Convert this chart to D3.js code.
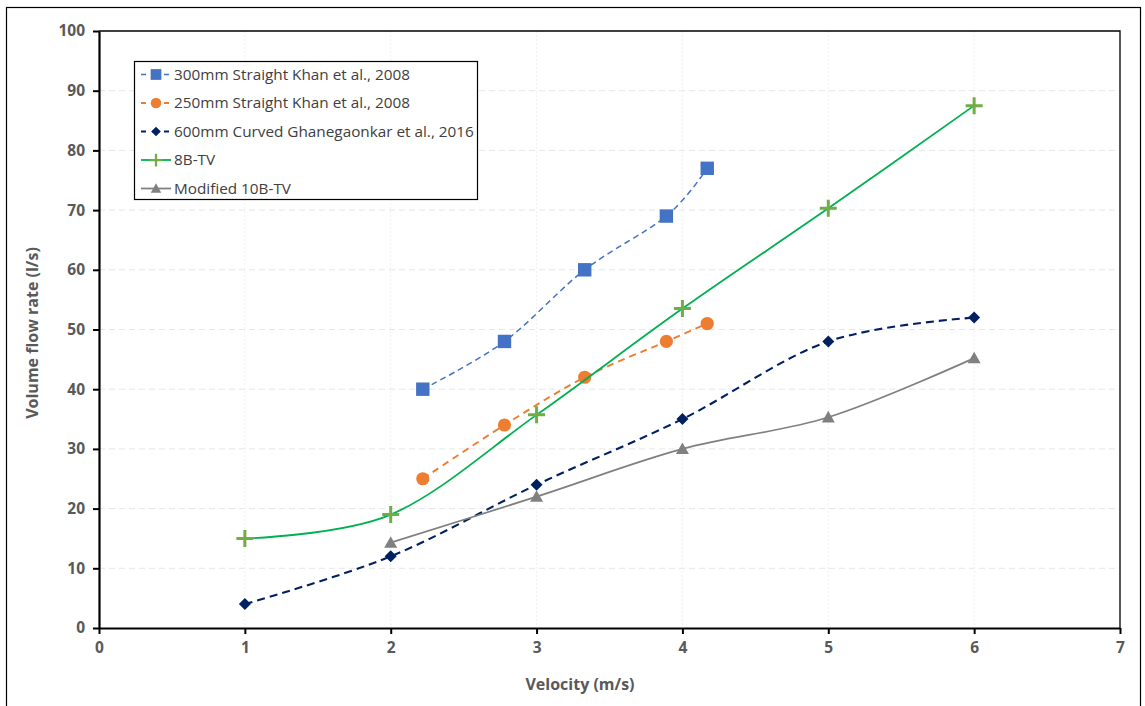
<!DOCTYPE html>
<html>
<head>
<meta charset="utf-8">
<script src="https://cdn.jsdelivr.net/npm/d3@7"></script>
<style>
  html, body { margin: 0; padding: 0; background: #fff; }
  svg { display: block; font-family: "Open Sans", "Noto Sans", "DejaVu Sans", sans-serif; }
</style>
</head>
<body>
<svg id="chart" width="1145" height="706"></svg>
<script>
// Series data: velocity (m/s) vs volume flow rate (l/s)
const vel300 = [2.22, 2.78, 3.33, 3.89, 4.17];
const q300   = [40, 48, 60, 69, 77];
const vel250 = [2.22, 2.78, 3.33, 3.89, 4.17];
const q250   = [25, 34, 42, 48, 51];
const vel600 = [1, 2, 3, 4, 5, 6];
const q600   = [4, 12, 24, 35, 48, 52];
const vel8B  = [1, 2, 3, 4, 5, 6];
const q8B    = [15, 19, 35.7, 53.5, 70.3, 87.5];
const vel10B = [2, 3, 4, 5, 6];
const q10B   = [14.3, 22, 30, 35.3, 45.2];

const xTicks = [0, 1, 2, 3, 4, 5, 6, 7];
const yTicks = [0, 10, 20, 30, 40, 50, 60, 70, 80, 90, 100];

const seriesNames = [
  "300mm Straight Khan et al., 2008",
  "250mm Straight Khan et al., 2008",
  "600mm Curved Ghanegaonkar et al., 2016",
  "8B-TV",
  "Modified 10B-TV"
];

const svg = d3.select("#chart");

// outer figure frame
svg.append("rect").attr("x", 6.5).attr("y", 7.5).attr("width", 1134).attr("height", 720)
  .attr("fill", "none").attr("stroke", "#000").attr("stroke-width", 1.2);

const m = { left: 99, right: 1120, top: 31, bottom: 628 };
const x = d3.scaleLinear().domain([0, 7]).range([m.left, m.right]);
const y = d3.scaleLinear().domain([0, 100]).range([m.bottom, m.top]);

// gridlines
const grid = svg.append("g");
grid.selectAll("line.h").data(yTicks.slice(1, -1)).join("line")
  .attr("x1", m.left).attr("x2", m.right)
  .attr("y1", d => y(d)).attr("y2", d => y(d))
  .attr("stroke", "#e6e6e6").attr("stroke-width", 1).attr("stroke-dasharray", "6,4");
grid.selectAll("line.v").data(xTicks.slice(1, -1)).join("line")
  .attr("y1", m.top).attr("y2", m.bottom)
  .attr("x1", d => x(d)).attr("x2", d => x(d))
  .attr("stroke", "#f0f0f0").attr("stroke-width", 1).attr("stroke-dasharray", "2,2");

// plot area border (top/right)
svg.append("path")
  .attr("d", `M${m.left},${m.top}H${m.right}V${m.bottom}`)
  .attr("fill", "none").attr("stroke", "#000").attr("stroke-width", 1.3);

// axes
const xAxis = svg.append("g").attr("transform", `translate(0,${m.bottom})`)
  .call(d3.axisBottom(x).tickValues(xTicks).tickFormat(d3.format("d")).tickSize(6).tickSizeOuter(0));
const yAxis = svg.append("g").attr("transform", `translate(${m.left},0)`)
  .call(d3.axisLeft(y).tickValues(yTicks).tickFormat(d3.format("d")).tickSize(6).tickSizeOuter(0));
[xAxis, yAxis].forEach(a => {
  a.select(".domain").attr("stroke", "#000").attr("stroke-width", 2.2);
  a.selectAll(".tick line").attr("stroke", "#000").attr("stroke-width", 2);
  a.selectAll(".tick text").attr("fill", "#595959").attr("font-size", 15.5)
    .attr("font-weight", "bold").attr("font-family", "'Open Sans', 'Noto Sans', sans-serif");
});
xAxis.selectAll(".tick text").attr("dy", "0.71em").attr("y", 14);
yAxis.selectAll(".tick text").attr("x", -14);

// axis titles
svg.append("text").attr("x", 580).attr("y", 690)
  .attr("text-anchor", "middle").attr("fill", "#595959")
  .attr("font-size", 16).attr("font-weight", "bold").text("Velocity (m/s)");
svg.append("text").attr("transform", `translate(38,333) rotate(-90)`)
  .attr("text-anchor", "middle").attr("fill", "#595959")
  .attr("font-size", 16).attr("font-weight", "bold").text("Volume flow rate (l/s)");

// smoothed line generator
const line = d3.line().x(d => x(d[0])).y(d => y(d[1])).curve(d3.curveCatmullRom.alpha(0));
const zip = (a, b) => a.map((v, i) => [v, b[i]]);

const series = [
  { name: seriesNames[0], pts: zip(vel300, q300), color: "#4472C4", marker: "square", mcolor: "#4472C4", dash: "6,4", w: 1.5 },
  { name: seriesNames[1], pts: zip(vel250, q250), color: "#ED7D31", marker: "circle", mcolor: "#ED7D31", dash: "7,5", w: 1.9 },
  { name: seriesNames[2], pts: zip(vel600, q600), color: "#002060", marker: "diamond", mcolor: "#002060", dash: "8,5", w: 2.1 },
  { name: seriesNames[3], pts: zip(vel8B, q8B), color: "#00B050", marker: "plus", mcolor: "#70AD47", dash: null, w: 1.8 },
  { name: seriesNames[4], pts: zip(vel10B, q10B), color: "#808080", marker: "triangle", mcolor: "#808080", dash: null, w: 1.8 }
];

function drawMarker(g, type, cx, cy, color, s) {
  s = s || 1;
  if (type === "square") {
    g.append("rect").attr("x", cx - 6.7 * s).attr("y", cy - 6.7 * s).attr("width", 13.4 * s).attr("height", 13.4 * s).attr("fill", color);
  } else if (type === "circle") {
    g.append("circle").attr("cx", cx).attr("cy", cy).attr("r", 6.6 * s).attr("fill", color);
  } else if (type === "diamond") {
    const r = 6 * s;
    g.append("path").attr("d", `M${cx},${cy - r}L${cx + r},${cy}L${cx},${cy + r}L${cx - r},${cy}Z`).attr("fill", color);
  } else if (type === "plus") {
    const r = 8.5 * s;
    g.append("path").attr("d", `M${cx - r},${cy}H${cx + r}M${cx},${cy - r}V${cy + r}`)
      .attr("stroke", color).attr("stroke-width", 3 * s);
  } else if (type === "triangle") {
    const r = 6.5 * s;
    g.append("path").attr("d", `M${cx},${cy - r}L${cx + r},${cy + r * 0.8}L${cx - r},${cy + r * 0.8}Z`).attr("fill", color);
  }
}

const plot = svg.append("g");
series.forEach(s => {
  plot.append("path").datum(s.pts).attr("d", line)
    .attr("fill", "none").attr("stroke", s.color).attr("stroke-width", s.w)
    .attr("stroke-dasharray", s.dash);
  const mg = plot.append("g");
  s.pts.forEach(p => drawMarker(mg, s.marker, x(p[0]), y(p[1]), s.mcolor));
});

// legend
const lg = svg.append("g");
lg.append("rect").attr("x", 134.5).attr("y", 61.5).attr("width", 343).attr("height", 138)
  .attr("fill", "#fff").attr("stroke", "#000").attr("stroke-width", 1.2);
series.forEach((s, i) => {
  const cy = 74.5 + i * 28.5;
  lg.append("line").attr("x1", 141).attr("x2", 171).attr("y1", cy).attr("y2", cy)
    .attr("stroke", s.color).attr("stroke-width", s.w).attr("stroke-dasharray", s.dash ? "5,6.5" : null);
  drawMarker(lg, s.marker, 156, cy, s.mcolor, s.marker === "plus" ? 0.75 : 0.8);
  lg.append("text").attr("x", 174).attr("y", cy).attr("dy", "0.35em")
    .attr("fill", "#404040").attr("font-size", 15.3).text(s.name);
});
</script>
</body>
</html>
